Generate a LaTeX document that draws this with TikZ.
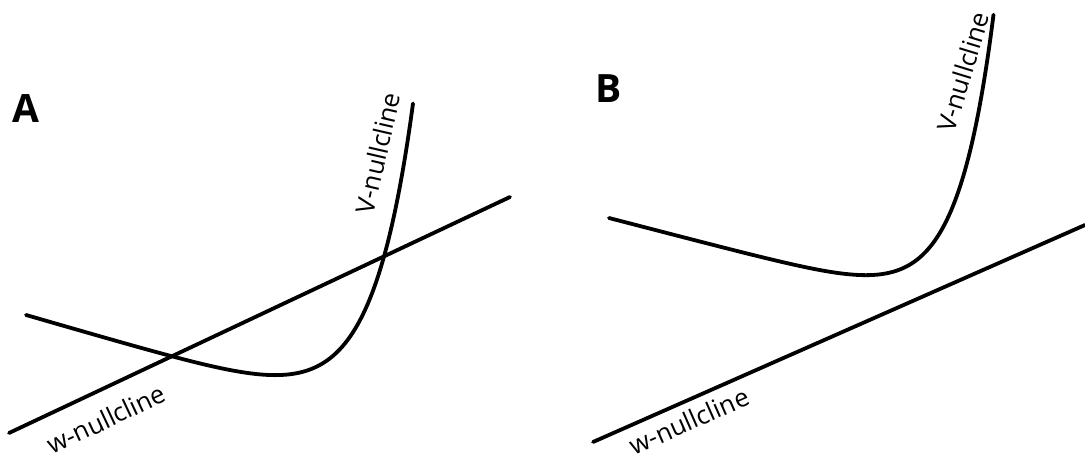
\documentclass[tikz,border=0pt]{standalone}
\usepackage{fontspec}
\setmainfont{Open Sans}
\begin{document}
\begin{tikzpicture}[x=0.5pt, y=-0.5pt,
	nullcline/.style={line width=1.9pt, line cap=round},
	cline/.style={font=\fontsize{12.8}{15}\selectfont, inner sep=0pt},
	panel/.style={font=\bfseries\fontsize{19.5}{22}\selectfont, inner sep=0pt}]
	\useasboundingbox (0,0) rectangle (1085,459);
	% panel A: two crossings
	\node [panel] (labA) at (26,109) {A};
	\draw[nullcline, domain = 26:413, samples=200, smooth] plot (\x, {315+0.29*(\x-26)-158.5*exp((\x-383)/42)});
	\coordinate (wA0) at (9,433);
	\coordinate (wA1) at (510,197);
	\draw [nullcline] (wA0) -- (wA1);
	\node [cline, rotate=77] (vlabA) at (378,153) {V-nullcline};
	\node [cline, rotate=25.2] (wlabA) at (106,419) {w-nullcline};
	% panel B: no crossing
	\node [panel] (labB) at (609,89) {B};
	\draw[nullcline, domain = 609:993.5, samples=200, smooth] plot (\x, {218+0.26*(\x-609)-133*exp((\x-963)/37)});
	\coordinate (wB0) at (593,442);
	\coordinate (wB1) at (1085,225);
	\draw [nullcline] (wB0) -- (wB1);
	\node [cline, rotate=73] (vlabB) at (963,72) {V-nullcline};
	\node [cline, rotate=23.8] (wlabB) at (689,421) {w-nullcline};
\end{tikzpicture}
\end{document}
